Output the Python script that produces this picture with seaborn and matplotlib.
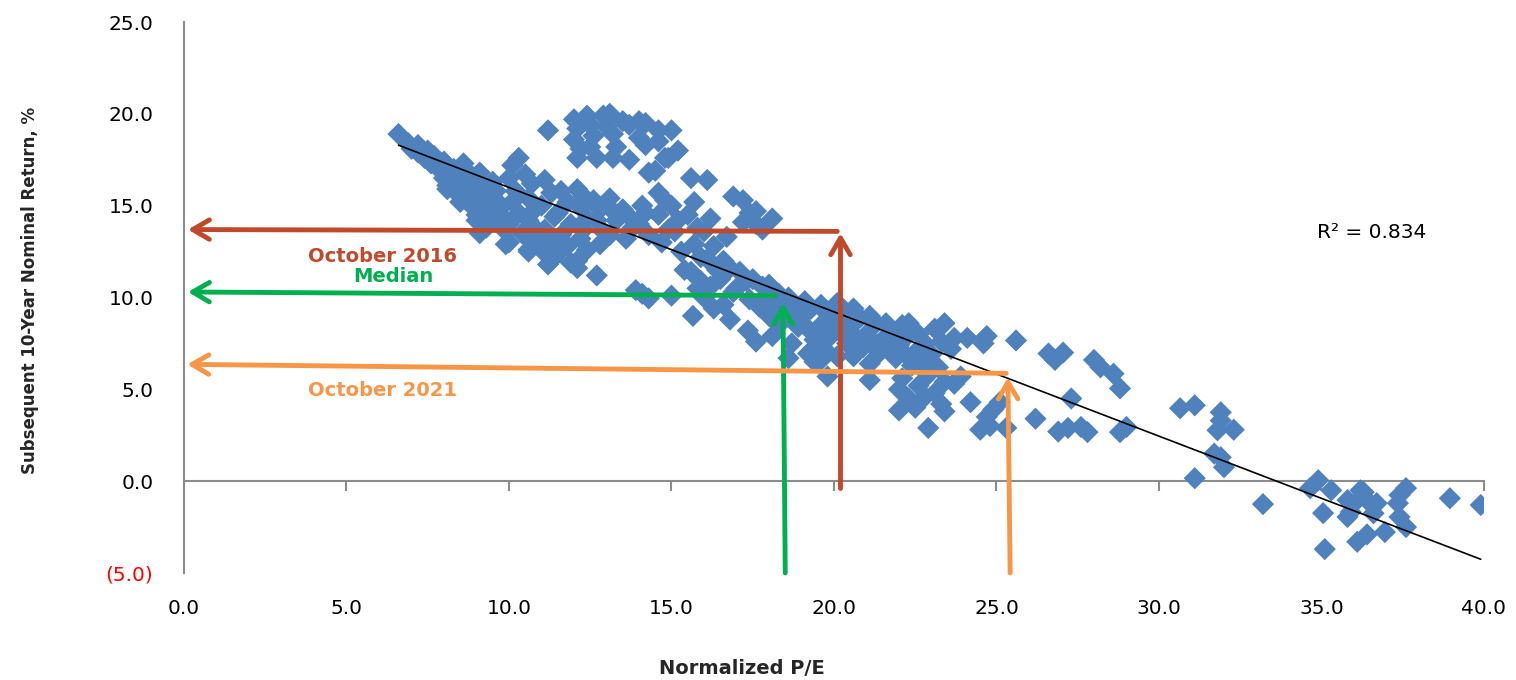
import numpy as np
import pandas as pd
import seaborn as sns
import matplotlib.pyplot as plt

# ---------------- data ----------------
band_x = [6.6, 6.9, 7.0, 7.2, 7.2, 7.4, 7.5, 7.6, 7.7, 7.8, 7.9, 8.0, 8.0, 8.1, 8.1, 8.3, 8.3, 8.4, 8.4, 8.5,
          8.5, 8.6, 8.7, 8.7, 8.8, 8.8, 8.9, 8.9, 9.0, 9.0, 9.1, 9.1, 9.2, 9.2, 9.3, 9.3, 9.3, 9.3, 9.5, 9.6,
          9.6, 9.7, 9.8, 9.8, 9.9, 10.1, 10.3, 10.0, 10.2, 10.1, 10.3, 10.0, 10.4, 10.0, 10.5, 10.7, 10.6, 10.8,
          10.6, 10.9, 10.7, 10.6, 11.2, 11.1, 11.3, 11.0, 11.4, 11.1, 11.3, 11.0, 11.4, 11.6, 11.8, 11.5, 11.9,
          11.6, 11.8, 11.5, 11.9, 9.1, 9.9, 10.6, 11.2, 12.1]
band_y = [18.9, 18.4, 18.1, 17.9, 18.3, 17.6, 18.0, 17.3, 17.7, 17.2, 16.9, 17.4, 16.5, 16.1, 15.9, 17.0, 16.6,
          16.3, 15.9, 15.5, 15.2, 17.3, 16.9, 16.5, 16.1, 15.7, 15.3, 14.9, 14.5, 14.2, 16.8, 16.4, 16.0, 15.5,
          15.0, 14.6, 14.2, 13.8, 16.3, 15.8, 15.3, 14.8, 14.4, 14.0, 13.6, 17.2, 17.6, 16.5, 15.8, 15.2, 14.6,
          14.0, 13.5, 13.0, 16.7, 16.2, 15.4, 14.8, 14.2, 13.6, 13.0, 12.6, 19.1, 16.4, 15.7, 15.0, 14.4, 13.7,
          13.2, 12.6, 12.2, 15.8, 15.2, 14.6, 14.0, 13.4, 12.8, 12.4, 11.9, 13.5, 12.9, 12.5, 11.8, 11.6]

upper_x = [12.0, 12.1, 12.0, 12.2, 12.1, 12.4, 12.5, 12.6, 12.5, 12.7, 12.9, 13.1, 13.0, 13.2, 13.3, 13.2,
           13.5, 13.7, 13.7, 14.0, 14.2, 14.0, 14.2, 14.3, 14.6, 14.6, 14.8, 14.5, 15.0, 15.2, 14.9]
upper_y = [19.7, 19.2, 18.6, 18.1, 17.6, 19.9, 19.4, 18.8, 18.2, 17.6, 19.9, 20.0, 19.3, 18.9, 18.2, 17.6,
           19.6, 19.4, 17.5, 19.6, 19.5, 18.7, 18.3, 16.8, 19.1, 18.5, 17.6, 16.9, 19.1, 18.0, 17.6]

mid_x = [12.1, 12.3, 12.2, 12.4, 12.3, 12.2, 12.4, 12.1, 12.6, 12.8, 12.7, 12.9, 12.8, 12.7, 13.1, 13.2, 13.3,
         13.1, 13.5, 13.7, 13.8, 13.6, 13.9, 14.1, 14.2, 14.0, 14.3, 14.3, 14.1, 14.6, 14.8, 14.6, 14.9, 14.7,
         15.0, 15.2, 15.1, 15.3, 15.4, 15.0, 15.6, 15.7, 15.5, 15.8, 15.7, 15.9, 15.6, 15.8, 15.66, 15.9, 16.1,
         16.2, 16.0, 16.3, 16.1, 16.4, 16.2, 16.0, 16.3, 16.9, 16.7, 16.6, 16.8, 16.5, 16.9, 16.6, 16.8, 17.2,
         17.4, 17.2, 17.1, 17.3, 17.0, 17.4, 17.35, 17.6, 17.8, 17.6, 17.5, 17.8, 17.9, 17.7, 17.6, 18.1, 18.0,
         18.3, 18.2, 18.0, 18.3, 18.1]
mid_y = [15.9, 15.5, 14.9, 14.3, 13.7, 13.2, 12.6, 12.0, 15.3, 14.8, 14.2, 13.6, 12.9, 11.2, 15.4, 14.7, 14.2,
         13.4, 14.8, 14.4, 13.8, 13.2, 10.4, 15.0, 14.6, 14.0, 13.4, 9.95, 10.2, 15.7, 15.3, 14.5, 13.7, 13.0,
         15.0, 14.2, 13.6, 12.5, 11.5, 10.1, 16.5, 15.2, 14.5, 13.8, 12.9, 12.2, 11.4, 10.5, 9.0, 10.9, 16.4,
         14.3, 13.6, 12.8, 12.1, 11.5, 10.6, 10.0, 9.4, 15.5, 13.3, 12.0, 11.6, 11.0, 10.3, 9.6, 8.8, 15.3,
         14.6, 14.1, 11.4, 10.9, 10.5, 9.9, 8.2, 14.7, 13.7, 14.0, 11.0, 10.6, 10.0, 9.5, 7.6, 14.3, 10.7,
         10.2, 9.6, 9.0, 8.5, 7.9]

tail_x = [18.6, 18.8, 18.6, 18.9, 18.7, 18.6, 19.1, 19.3, 19.0, 19.2, 19.4, 19.2, 19.4, 19.6, 19.8, 19.6,
          19.9, 19.7, 19.6, 19.8, 20.1, 20.3, 20.0, 20.2, 20.4, 20.1, 20.6, 20.8, 20.5, 20.7, 20.9, 20.6, 21.1,
          21.3, 21.0, 21.2, 21.4, 21.1, 21.1, 21.6, 21.8, 21.5, 21.7, 21.9, 22.1, 22.3, 22.0, 22.2, 22.4, 22.1,
          22.0, 22.3, 22.0, 22.6, 22.8, 22.5, 22.7, 22.9, 22.6, 22.8, 22.5, 22.9, 23.1, 23.3, 23.0, 23.2, 23.4,
          23.1, 23.3, 23.4, 23.7, 23.6, 23.9, 23.7, 24.1, 24.2, 24.5, 24.7, 24.6, 24.7, 24.9, 24.8, 25.1, 25.3,
          25.6, 26.2, 26.6, 26.8, 26.9, 27.05, 27.3, 27.2, 27.6, 27.8, 28.0, 28.2, 28.6, 28.8, 28.8, 29.0, 22.3,
          23.4]
tail_y = [10.0, 9.5, 9.0, 8.4, 7.5, 6.7, 9.8, 9.4, 8.9, 8.3, 7.7, 6.95, 6.5, 9.6, 9.1, 8.5, 7.9, 7.2, 6.6,
          5.7, 9.7, 9.2, 8.7, 8.1, 7.5, 6.8, 9.4, 8.9, 8.4, 7.8, 7.3, 6.8, 9.0, 8.6, 8.0, 7.5, 7.0, 6.4, 5.5,
          8.6, 8.2, 7.7, 7.2, 6.7, 8.5, 8.0, 7.4, 6.9, 6.3, 5.6, 5.0, 4.5, 3.85, 8.0, 7.5, 7.0, 6.3, 5.8, 5.2,
          4.6, 4.0, 2.9, 8.3, 7.6, 6.9, 6.2, 5.4, 4.8, 4.2, 3.8, 7.8, 7.2, 5.7, 5.3, 7.8, 4.3, 2.8, 7.9, 7.5,
          3.5, 3.9, 3.0, 4.3, 2.9, 7.66, 3.4, 6.95, 6.6, 2.7, 7.0, 4.5, 2.9, 2.95, 2.67, 6.6, 6.2, 5.85, 5.05,
          2.67, 2.95, 8.6, 8.6]

right_x = [30.65, 31.1, 31.9, 31.9, 31.8, 32.3, 31.7, 31.9, 32.0, 31.1, 33.2, 34.65, 34.9, 35.3, 35.05, 35.1,
           35.8, 36.2, 36.1, 36.4, 35.8, 35.9, 36.7, 36.6, 36.95, 36.1, 36.4, 37.4, 37.6, 37.35, 37.4, 37.6,
           38.95, 39.9, 36.3]
right_y = [3.97, 4.13, 3.75, 3.3, 2.77, 2.8, 1.5, 1.3, 0.76, 0.16, -1.25, -0.38, 0.05, -0.5, -1.74, -3.7,
           -1.03, -0.5, -1.03, -1.03, -1.95, -1.68, -1.2, -1.75, -2.77, -3.3, -2.9, -0.76, -0.38, -1.2, -1.95,
           -2.5, -0.93, -1.3, -0.6]

trend_slope = -0.677
trend_intercept = 22.76
r_squared = "R² = 0.834"

x_ticks = [0, 5, 10, 15, 20, 25, 30, 35, 40]
y_ticks = [-5, 0, 5, 10, 15, 20, 25]

# arrows: (tail, tip)
oct2016_vert = ((20.2, -0.4), (20.2, 13.5))
oct2016_horiz = ((20.1, 13.6), (0.12, 13.7))
median_vert = ((18.5, -5.0), (18.43, 9.7))
median_horiz = ((18.2, 10.1), (0.12, 10.3))
oct2021_vert = ((25.42, -5.0), (25.35, 5.65))
oct2021_horiz = ((25.3, 5.87), (0.1, 6.36))

label_oct2016 = ("October 2016", 6.12, 12.23)
label_median = ("Median", 6.43, 11.14)
label_oct2021 = ("October 2021", 6.12, 4.95)

# ---------------- plot ----------------
sns.set_theme(style="white")
plt.rcParams['font.family'] = ['DejaVu Sans']

RED = '#C0492B'
GREEN = '#00B050'
ORANGE = '#F79646'
BLUE = '#4F81BD'
GRAY = '#8C8C8C'

df = pd.DataFrame({
    'pe': band_x + upper_x + mid_x + tail_x + right_x,
    'ret': band_y + upper_y + mid_y + tail_y + right_y,
})

fig = plt.figure(figsize=(15.16, 6.8), dpi=100)
ax = fig.add_axes([184 / 1516, 1 - 573 / 680, 1300 / 1516, 551 / 680])

sns.scatterplot(data=df, x='pe', y='ret', marker='D', s=128, color=BLUE,
                edgecolor='none', linewidth=0, ax=ax, zorder=2)

xs = np.array([df['pe'].min(), df['pe'].max()])
ax.plot(xs, trend_intercept + trend_slope * xs, color='black', lw=1.2, zorder=3)

ax.set_xlim(0, 40)
ax.set_ylim(-5, 25)
ax.set_xlabel('')
ax.set_ylabel('')

for s in ['top', 'right', 'bottom']:
    ax.spines[s].set_visible(False)
ax.spines['left'].set_color(GRAY)
ax.spines['left'].set_linewidth(1.5)

ax.set_xticks(x_ticks)
ax.set_xticklabels([f"{v:.1f}" for v in x_ticks])
ax.tick_params(axis='x', length=0, pad=19, labelsize=14.5, labelcolor='black')

ax.set_yticks(y_ticks)
ax.set_yticklabels([f"({abs(v):.1f})" if v < 0 else f"{v:.1f}" for v in y_ticks])
ax.tick_params(axis='y', length=0, pad=22, labelsize=14.5, labelcolor='black')
for lab, v in zip(ax.get_yticklabels(), y_ticks):
    if v < 0:
        lab.set_color('red')

# zero line with tick marks
sec = ax.secondary_xaxis(5 / 30)
sec.set_xticks(x_ticks)
sec.set_xticklabels([])
sec.tick_params(axis='x', direction='out', length=7, width=1.5, color=GRAY)
for s in sec.spines.values():
    s.set_color(GRAY)
    s.set_linewidth(1.5)

def arrow(tail, tip, color):
    ax.annotate('', xy=tip, xytext=tail,
                arrowprops=dict(arrowstyle='->,head_length=0.6,head_width=0.35',
                                lw=3.5, color=color, shrinkA=0, shrinkB=0,
                                mutation_scale=20),
                zorder=4)

arrow(*oct2016_horiz, RED)
arrow(*oct2016_vert, RED)
arrow(*median_horiz, GREEN)
arrow(*median_vert, GREEN)
arrow(*oct2021_horiz, ORANGE)
arrow(*oct2021_vert, ORANGE)

for (txt, x, y), c in [(label_oct2016, RED), (label_median, GREEN), (label_oct2021, ORANGE)]:
    ax.text(x, y, txt, color=c, fontsize=14, fontweight='bold', ha='center', va='center', zorder=5)

ax.text(36.55, 13.53, r_squared, fontsize=14.5, ha='center', va='center', color='black')

fig.text(30 / 1516, 1 - 290 / 680, 'Subsequent 10-Year Nominal Return, %', rotation=90,
         fontsize=12, fontweight='bold', ha='center', va='center')
fig.text(742 / 1516, 1 - 668 / 680, 'Normalized P/E', fontsize=14, fontweight='bold',
         ha='center', va='center')

fig.savefig('out.png', dpi=100, facecolor='white')
